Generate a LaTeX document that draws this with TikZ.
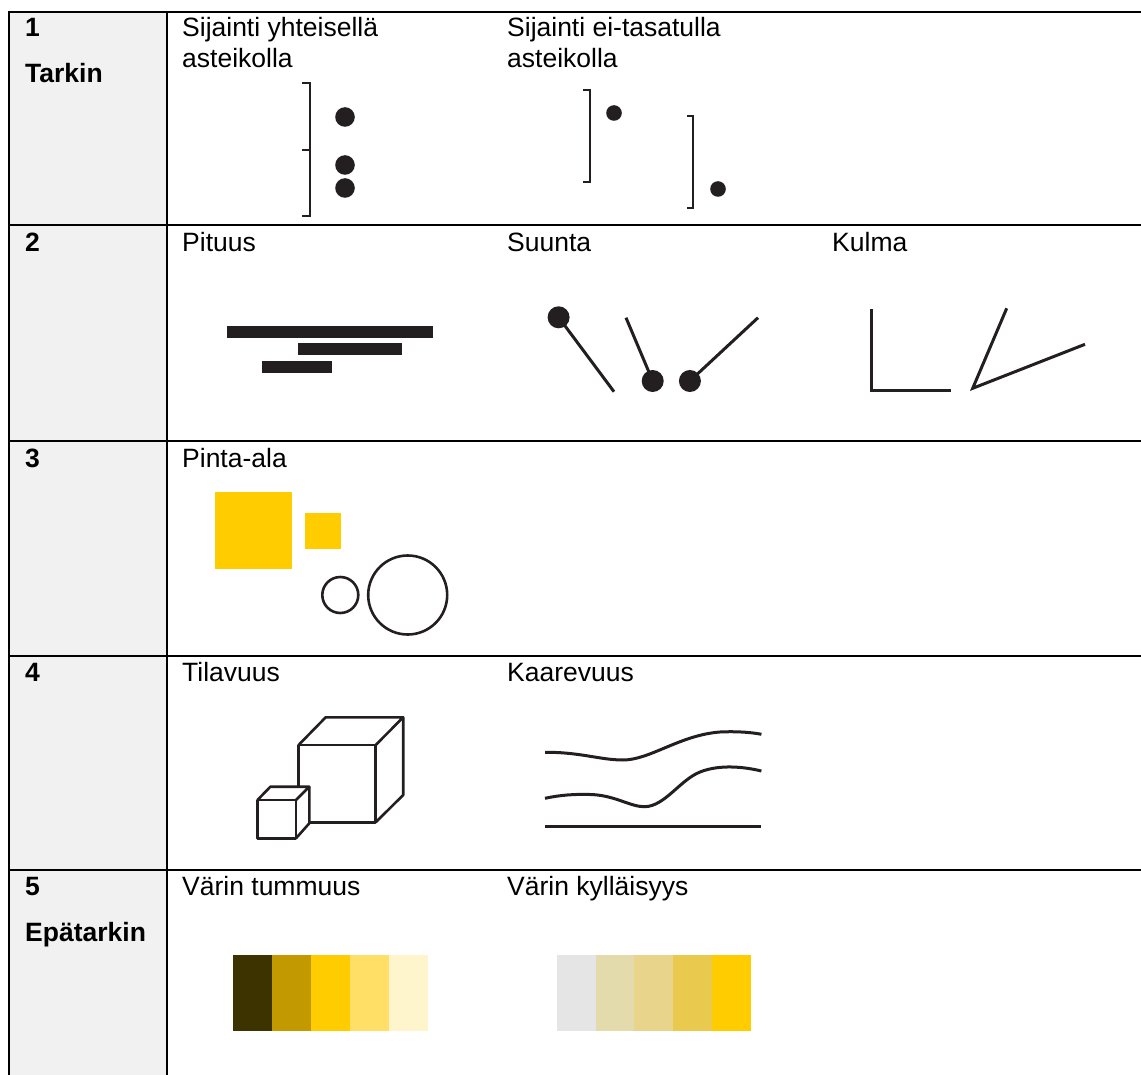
\documentclass[tikz,border=0pt]{standalone}
\usepackage{fontspec}
\setmainfont{Liberation Sans}
\definecolor{ink}{HTML}{231F20}
\definecolor{gry}{HTML}{F1F1F1}
\definecolor{yel}{HTML}{FFCC00}
\definecolor{dA}{HTML}{3D3300}
\definecolor{dB}{HTML}{C29A00}
\definecolor{dC}{HTML}{FFCC00}
\definecolor{dD}{HTML}{FFDF66}
\definecolor{dE}{HTML}{FFF5CC}
\definecolor{sA}{HTML}{E5E5E5}
\definecolor{sB}{HTML}{E4DBAD}
\definecolor{sC}{HTML}{E8D58B}
\definecolor{sD}{HTML}{E9CA4E}
\definecolor{sE}{HTML}{FFCC00}
\begin{document}
\begin{tikzpicture}[x=1pt,y=-1pt,
  txt/.style={anchor=base west,inner sep=0pt,font=\fontsize{26.5}{31}\selectfont},
  hdr/.style={anchor=base west,inner sep=0pt,font=\fontsize{26.5}{31}\selectfont\bfseries},
  rule/.style={draw=black,line width=2pt},
  rowrule/.style={draw=black,line width=1.5pt},
  thin/.style={draw=ink,line width=2pt},
  med/.style={draw=ink,line width=2.6pt},
  thick/.style={draw=ink,line width=3pt},
  dot/.style={fill=ink}]
\useasboundingbox (0,0) rectangle (1141,1075);
% table
\fill[gry] (9,12) rectangle (167,1075);
\draw[rule] (8,12) -- (1141,12);
\draw[rule] (9,12) -- (9,1075);
\draw[rule] (167,12) -- (167,1075);
\foreach \yy in {225,441,656,870} \draw[rowrule] (9,\yy) -- (1141,\yy);
% row labels
\node[hdr] (r1) at (25,37) {1};
\node[hdr] (r1b) at (25,83) {Tarkin};
\node[hdr] (r2) at (25,252) {2};
\node[hdr] (r3) at (25,467) {3};
\node[hdr] (r4) at (25,681) {4};
\node[hdr] (r5) at (25,895) {5};
\node[hdr] (r5b) at (25,941) {Epätarkin};
% headers
\node[txt] (t1a) at (182,37) {Sijainti yhteisellä};
\node[txt] (t1b) at (182,68) {asteikolla};
\node[txt] (t2a) at (507,37) {Sijainti ei-tasatulla};
\node[txt] (t2b) at (507,68) {asteikolla};
\node[txt] (t3) at (182,252) {Pituus};
\node[txt] (t4) at (507,252) {Suunta};
\node[txt] (t5) at (832,252) {Kulma};
\node[txt] (t6) at (182,467) {Pinta-ala};
\node[txt] (t7) at (182,681) {Tilavuus};
\node[txt] (t8) at (507,681) {Kaarevuus};
\node[txt] (t9) at (182,895) {Värin tummuus};
\node[txt] (t10) at (507,895) {Värin kylläisyys};
% row 1 col 2
\draw[thin] (302,83) -- (310,83) -- (310,216) -- (302,216);
\draw[thin] (302,150) -- (310,150);
\fill[dot] (345,117) circle[radius=9.8pt];
\fill[dot] (345,165) circle[radius=9.8pt];
\fill[dot] (345,188) circle[radius=9.8pt];
% row 1 col 3
\draw[thin] (583,90) -- (589.5,90) -- (589.5,182) -- (583,182);
\fill[dot] (614,113) circle[radius=7.8pt];
\draw[thin] (687,116) -- (693,116) -- (693,208) -- (687,208);
\fill[dot] (718,189) circle[radius=7.8pt];
% row 2 lengths
\fill[ink] (227,325.7) rectangle (432.7,337.7);
\fill[ink] (297.6,343.3) rectangle (402,355.3);
\fill[ink] (262.4,361) rectangle (332.4,373);
% direction
\draw[thick] (558.6,317.3) -- (614,391.7);
\fill[dot] (558.6,317.3) circle[radius=11pt];
\draw[thick] (626,317.7) -- (652.7,381);
\fill[dot] (652.7,381) circle[radius=11pt];
\draw[thick] (689.9,381) -- (758,317.7);
\fill[dot] (689.9,381) circle[radius=11pt];
% angle
\draw[thick] (871.7,309.3) -- (871.7,390.7) -- (951,390.7);
\draw[thick] (1006.7,308.3) -- (972.7,388.3) -- (1085,344.3);
% row 3 area
\fill[yel] (215,492.3) rectangle (291.7,569.3);
\fill[yel] (305.3,513.3) rectangle (340.7,548.7);
\draw[med] (340.3,595) circle[radius=18pt];
\draw[med] (407.7,595) circle[radius=39.5pt];
% row 4 cubes
\draw[med,line join=round] (298.6,745) rectangle (375.7,822.3);
\draw[med,line join=round] (298.6,745) -- (325.7,717.3) -- (403.2,717.3) -- (375.7,745);
\draw[med,line join=round] (403.2,717.3) -- (403.2,795) -- (375.7,822.3);
\fill[white] (257.5,838.3) -- (257.5,800) -- (270.4,786.7) -- (309.3,786.7) -- (309.3,823.3) -- (296,838.3) -- cycle;
\draw[med,line join=round] (257.5,800) rectangle (296,838.3);
\draw[med,line join=round] (257.5,800) -- (270.4,786.7) -- (309.3,786.7) -- (296,800);
\draw[med,line join=round] (309.3,786.7) -- (309.3,823.3) -- (296,838.3);
% curvature
\draw[thick] (545,752.3) .. controls (580,752) and (600,760) .. (623,760) .. controls (650,760) and (680,735) .. (720,732) .. controls (740,731) and (755,733) .. (761.4,734.3);
\draw[thick] (545,798.3) .. controls (560,795) and (575,794) .. (590,794.5) .. controls (615,795) and (630,807) .. (645,806.7) .. controls (665,806) and (680,780) .. (700,772) .. controls (720,764) and (745,767) .. (761.4,771);
\draw[thick] (545,826.7) -- (761.4,826.7);
% row 5 swatches
\fill[dA] (232.6,955) rectangle (271.6,1030.7);
\fill[dB] (271.6,955) rectangle (310.6,1030.7);
\fill[dC] (310.6,955) rectangle (349.6,1030.7);
\fill[dD] (349.6,955) rectangle (388.5,1030.7);
\fill[dE] (388.5,955) rectangle (427.5,1030.7);
\fill[sA] (557,955) rectangle (595.7,1030.7);
\fill[sB] (595.7,955) rectangle (634.4,1030.7);
\fill[sC] (634.4,955) rectangle (673.1,1030.7);
\fill[sD] (673.1,955) rectangle (711.8,1030.7);
\fill[sE] (711.8,955) rectangle (750.5,1030.7);
\end{tikzpicture}
\end{document}
